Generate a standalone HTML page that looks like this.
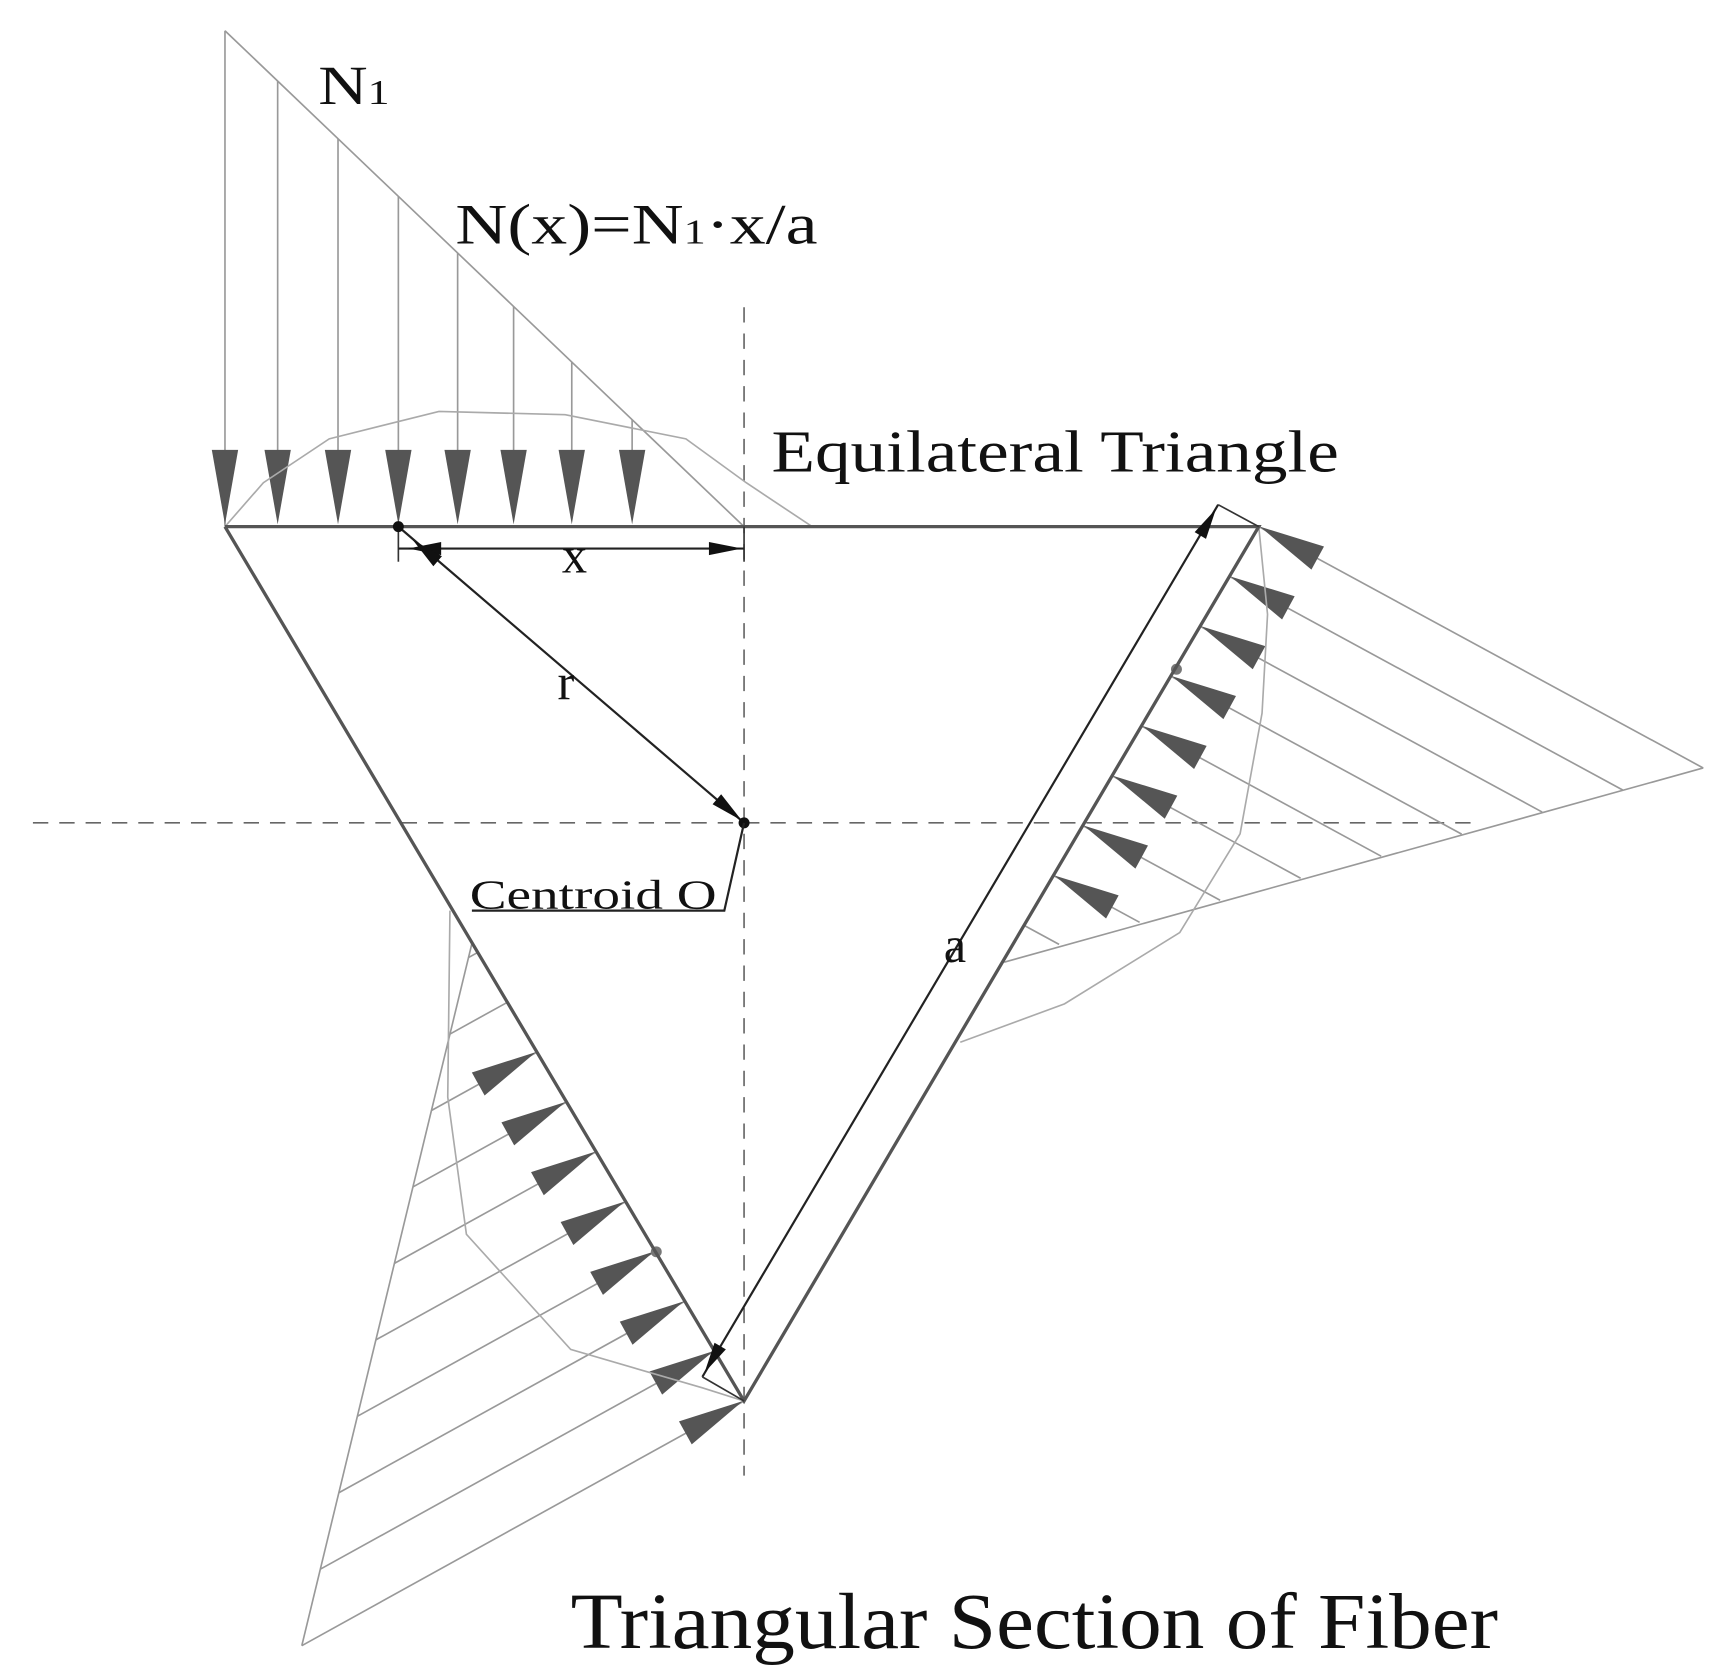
<!DOCTYPE html>
<html><head><meta charset="utf-8"><style>
html,body{margin:0;padding:0;background:#fff}
svg{display:block}
text{font-family:"Liberation Serif",serif;fill:#111}
</style></head><body>
<svg id="s" width="1712" height="1672" viewBox="0 0 1560 1524" preserveAspectRatio="none" xmlns="http://www.w3.org/2000/svg">
<g id="g" fill="none"></g>
<text x="290" y="95" font-size="50" textLength="65" lengthAdjust="spacingAndGlyphs">N<tspan font-size="32">1</tspan></text>
<text x="415" y="222" font-size="52" textLength="330" lengthAdjust="spacingAndGlyphs">N(x)=N<tspan font-size="32">1</tspan>·x/a</text>
<text x="703" y="430" font-size="54" textLength="517" lengthAdjust="spacingAndGlyphs">Equilateral Triangle</text>
<text x="520" y="1502" font-size="72" textLength="845" lengthAdjust="spacingAndGlyphs">Triangular Section of Fiber</text>
<text x="428" y="828" font-size="38" textLength="225" lengthAdjust="spacingAndGlyphs">Centroid O</text>
<text x="512" y="522" font-size="46">x</text>
<text x="508" y="637" font-size="46">r</text>
<text x="860" y="877" font-size="46">a</text>
</svg>
<script>
var g=document.getElementById('g'),h='';
function L(x1,y1,x2,y2,c,w,d){h+='<line x1="'+x1+'" y1="'+y1+'" x2="'+x2+'" y2="'+y2+'" stroke="'+c+'" stroke-width="'+w+'"'+(d?' stroke-dasharray="'+d+'"':'')+'/>';}
function P(pts,c,w){h+='<polyline points="'+pts+'" stroke="'+c+'" stroke-width="'+w+'" fill="none"/>';}
function A(tx,ty,dx,dy,len,wid,c){var n=Math.hypot(dx,dy);dx/=n;dy/=n;var bx=tx-dx*len,by=ty-dy*len,px=-dy*wid/2,py=dx*wid/2;
h+='<polygon points="'+tx+','+ty+' '+(bx+px)+','+(by+py)+' '+(bx-px)+','+(by-py)+'" fill="'+c+'"/>';}
var gr='#999',dk='#555',ah='#555';
L(30,750,1340,750,'#666',1.5,'14 10');L(678,280,678,1345,'#666',1.5,'14 10');
// top load
L(205,28,205,480,gr,1.5);L(205,28,678,480,gr,1.5);
[205,253,308,363,417,468,521,576].forEach(function(x){var y=28+(x-205)*452/473;if(x>205)L(x,y,x,420,gr,1.5);A(x,478,0,1,68,24,ah);});
P('205,480 240,440 300,400 400,375 515,378 625,400 680,440 740,480','#aaa',1.5);
// right load
var B=[1147,480],C=[678,1277];var ex=C[0]-B[0],ey=C[1]-B[1];
L(1147,480,1552,700,gr,1.5);L(1552,700,915,877,gr,1.5);
var dx=405/461,dy=220/461;
for(var i=0;i<9;i++){var t=i*0.057;var px=B[0]+ex*t,py=B[1]+ey*t;var len=461*(1-t/0.495);if(i>0&&len>0)L(px,py,px+dx*len,py+dy*len,gr,1.5);if(i<8)A(px+1,py,-dx,-dy,60,24,ah);}
P('1147,480 1155,560 1150,650 1130,760 1075,850 970,915 875,950','#aaa',1.5);
// left load
var A0=[205,480];var fx=A0[0]-C[0],fy=A0[1]-C[1];
L(678,1277,275,1500,gr,1.5);L(275,1500,430,860,gr,1.5);
var qx=-403/460,qy=223/460;
for(var i=0;i<10;i++){var t=i*0.057;var px=C[0]+fx*t,py=C[1]+fy*t;var len=460*(1-t/0.524);if(i>0&&len>0)L(px,py,px+qx*len,py+qy*len,gr,1.5);if(i<8)A(px-1,py,-qx,-qy,60,24,ah);}
P('410,830 408,1000 425,1125 520,1230 640,1265 678,1277','#aaa',1.5);
h+='<circle cx="598" cy="1141" r="5" fill="#777"/><circle cx="1072" cy="610" r="5" fill="#777"/>';
P('205,480 1147,480 678,1277 205,480',dk,3);
// a dimension
L(1110,460,640,1255,'#222',2);L(1110,460,1147,480,'#333',1.5);L(640,1255,678,1277,'#333',1.5);
A(1108,464,0.509,-0.861,28,12,'#111');A(642,1251,-0.509,0.861,28,12,'#111');
// x dimension
L(363,480,363,512,'#333',1.5);L(678,480,678,512,'#333',1.5);L(363,500,678,500,'#222',2);
A(372,500,-1,0,30,12,'#111');A(676,500,1,0,30,12,'#111');
// r
L(363,480,678,750,'#222',2);A(376,492,-315,-270,30,12,'#111');A(676,748,315,270,30,12,'#111');
h+='<circle cx="363" cy="480" r="5" fill="#111"/><circle cx="678" cy="750" r="5" fill="#111"/>';
P('678,750 660,830 430,830','#222',2);
g.innerHTML=h;
</script>
</body></html>
